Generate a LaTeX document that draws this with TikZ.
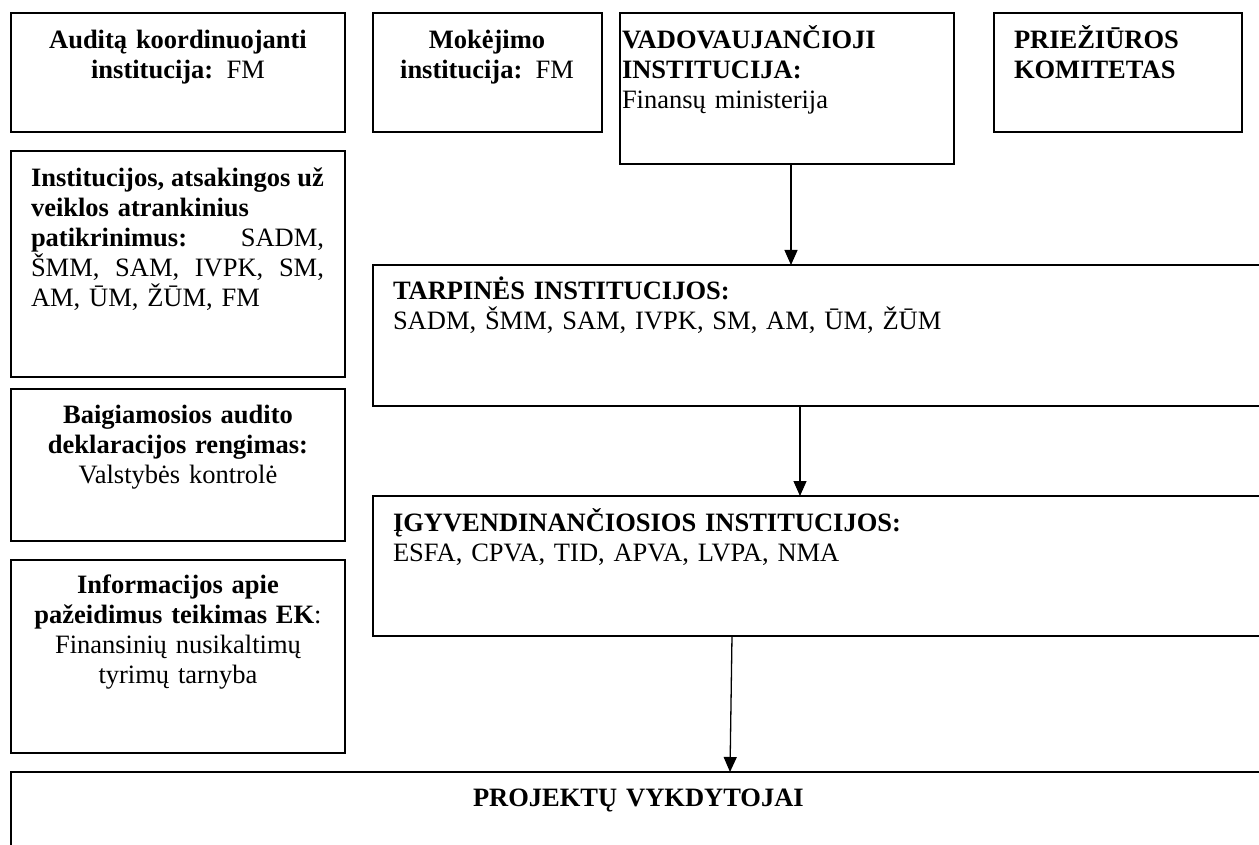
\documentclass[tikz,border=0pt]{standalone}
\usepackage{fontspec}
\setmainfont{Liberation Serif}
\usetikzlibrary{arrows.meta}
\tikzset{
  box/.style={draw=black,line width=2pt,inner sep=0pt,outer sep=0pt,rectangle,anchor=north west},
  txt/.style={inner sep=0pt,outer sep=0pt,font=\fontsize{26.5}{30}\selectfont},
  ctxt/.style={txt,text width=320pt,align=center,anchor=base},
  ltxt/.style={txt,text width=700pt,align=left,anchor=base west},
  arr/.style={line width=1.3pt,-{Triangle[length=15pt,width=13pt]}}
}
\newcommand\mkbox[5]{\node[box,minimum width=#4pt,minimum height=#5pt] (#1) at (#2,#3) {};}
\newcommand\fullline[1]{\leavevmode\hbox to 293pt{#1}}
\begin{document}
\begin{tikzpicture}[x=1pt,y=-1pt]
\clip (0,0) rectangle (1259,845);
\fill[white] (0,0) rectangle (1259,845);
\mkbox{b1}{11}{13}{334}{119}
\mkbox{b2}{373}{13}{229}{119}
\mkbox{b3}{620}{13}{334}{151}
\mkbox{b4}{994}{13}{248}{119}
\mkbox{b5}{11}{151}{334}{226}
\mkbox{b6}{11}{389}{334}{152}
\mkbox{b7}{11}{560}{334}{193}
\mkbox{b8}{373}{265}{950}{141}
\mkbox{b9}{373}{496}{950}{140}
\mkbox{b10}{11}{772}{1300}{150}
\node[ctxt] (t1) at (178,49) {\textbf{Auditą koordinuojanti}\\\textbf{institucija:} FM};
\node[ctxt,text width=225pt] (t2) at (487,49) {\textbf{Mokėjimo}\\\textbf{institucija:} FM};
\node[ltxt,text width=330pt] (t3) at (622,49) {\textbf{VADOVAUJANČIOJI}\\\textbf{INSTITUCIJA:}\\Finansų ministerija};
\node[ltxt,text width=225pt] (t4) at (1014,49) {\textbf{PRIEŽIŪROS}\\\textbf{KOMITETAS}};
\node[ltxt,text width=300pt] (t5) at (31,187) {\fullline{\textbf{Institucijos,}\hfill\textbf{atsakingos}\hfill\textbf{už}}\\\textbf{veiklos atrankinius}\\\fullline{\textbf{patikrinimus:}\hfill SADM,}\\\fullline{ŠMM,\hfill SAM,\hfill IVPK,\hfill SM,}\\AM, ŪM, ŽŪM, FM};
\node[ctxt] (t6) at (178,423) {\textbf{Baigiamosios audito}\\\textbf{deklaracijos rengimas:}\\Valstybės kontrolė};
\node[ctxt] (t7) at (178,593) {\textbf{Informacijos apie}\\\textbf{pažeidimus teikimas EK}:\\Finansinių nusikaltimų\\tyrimų tarnyba};
\node[ltxt] (t8) at (393,300) {\textbf{TARPINĖS INSTITUCIJOS:}\\SADM, ŠMM, SAM, IVPK, SM, AM, ŪM, ŽŪM};
\node[ltxt] (t9) at (393,531) {\textbf{ĮGYVENDINANČIOSIOS INSTITUCIJOS:}\\ESFA, CPVA, TID, APVA, LVPA, NMA};
\node[ltxt] (t10) at (473,806) {\textbf{PROJEKTŲ VYKDYTOJAI}};
\coordinate (x1) at (791,0);
\coordinate (x2) at (800,0);
\coordinate (x3a) at (732,0);
\coordinate (x3b) at (730,0);
\draw[arr] (x1 |- b3.south) -- (x1 |- b8.north);
\draw[arr] (x2 |- b8.south) -- (x2 |- b9.north);
\draw[arr] (x3a |- b9.south) -- (x3b |- b10.north);
\end{tikzpicture}
\end{document}
